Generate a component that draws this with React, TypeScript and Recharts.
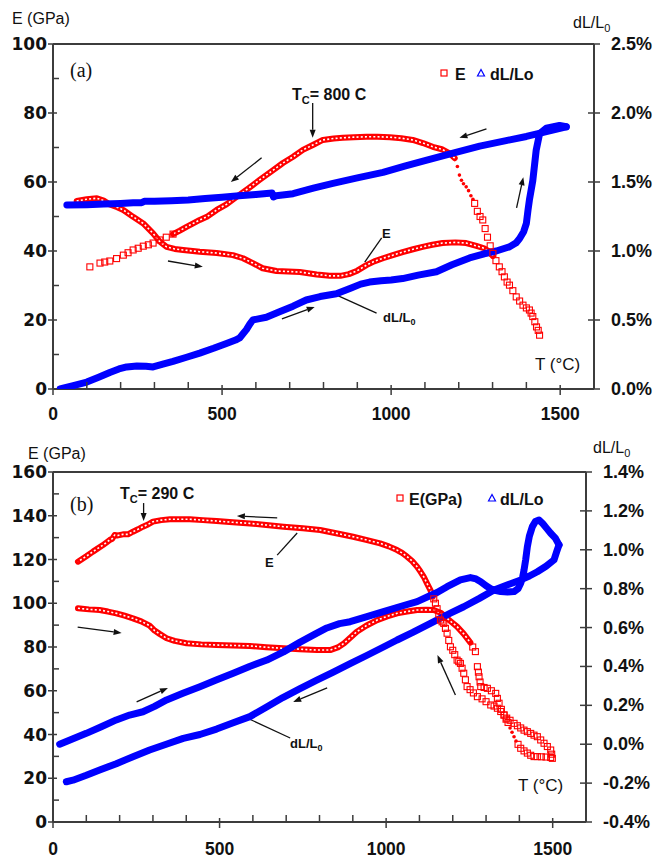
import React from 'react';
import { ScatterChart, Scatter, XAxis, YAxis, ReferenceLine } from 'recharts';

type Pt = [number, number];

// ---------- panel (a) : T (°C) vs E (GPa) and dL/L0 (%) ----------
const eHeatA: Pt[] = [
  [70, 54.5], [100, 55.0], [130, 55.3], [150, 54.6], [168, 53.5], [190, 52.7], [208, 51.9], [237, 49.9],
  [267, 48], [296, 45.1], [316, 42.7], [336, 41.2], [360, 40.6], [385, 40.3], [434, 39.8], [484, 39.4],
  [532, 38.8], [562, 37.9], [591, 36.5], [620, 35], [661, 34.2], [730, 33.9], [780, 33.2], [818, 32.8],
  [850, 32.8], [875, 33.3], [900, 34.3], [927, 35.9], [950, 37], [976, 37.9], [1005, 38.8], [1034, 39.7],
  [1065, 40.5], [1093, 41.2], [1122, 41.8], [1152, 42.3], [1190, 42.5], [1222, 42.3], [1252, 41.5],
  [1275, 40.8], [1291, 39.8], [1301, 38.5],
];
const eCoolA: Pt[] = [
  [1188, 66.9], [1173, 68.3], [1150, 69.5], [1123, 70.2], [1094, 71.3], [1064, 72.2], [1030, 72.7],
  [996, 73], [960, 73.1], [927, 73.1], [890, 73], [857, 72.8], [830, 72.6], [798, 72.2], [770, 70.8],
  [739, 69.3], [710, 67.3], [680, 65.5], [645, 63], [611, 60.6], [577, 58.1], [543, 55.7], [513, 53.5],
  [484, 51.9], [455, 49.9], [434, 49], [395, 47], [375, 45.9], [355, 44.9],
];
const eCoolLowA: Pt[] = [
  [355, 44.9], [335, 44], [316, 43.2], [296, 42.3], [282, 41.8], [267, 41.4], [252, 40.8], [237, 40.3],
  [222, 39.5], [208, 38.8], [188, 37.8], [168, 37.1], [153, 36.8], [139, 36.5], [109, 35.4],
];
const eDotsA: Pt[] = [
  [1196, 64.5], [1202, 62], [1208, 60.5], [1214, 59.5], [1222, 58.6], [1229, 57.5], [1236, 56], [1242, 55],
];
const eDropA: Pt[] = [
  [1247, 53.8], [1255, 51.5], [1263, 50], [1271, 49], [1278, 46.5], [1285, 44], [1293, 41.5], [1301, 39.3],
  [1310, 37.2], [1320, 35.4], [1328, 34], [1335, 32.5], [1343, 31], [1350, 30.1], [1360, 28.5], [1370, 26.7],
  [1380, 25.5], [1390, 24.3], [1400, 23.5], [1409, 22.9], [1414, 22], [1419, 21], [1425, 19.5], [1430, 18],
  [1435, 17], [1439, 15.6],
];
const dHeatA: Pt[] = [
  [21, 0], [60, 0.025], [100, 0.05], [135, 0.085], [168, 0.12], [195, 0.145], [218, 0.16], [248, 0.167],
  [275, 0.165], [296, 0.16], [325, 0.18], [355, 0.2], [395, 0.23], [434, 0.26], [475, 0.295], [513, 0.33],
  [540, 0.355], [552, 0.37], [562, 0.4], [572, 0.43], [582, 0.47], [591, 0.5], [611, 0.51], [631, 0.52],
  [670, 0.56], [710, 0.6], [749, 0.645], [790, 0.67], [838, 0.69], [880, 0.73], [910, 0.76], [936, 0.775],
  [970, 0.785], [1000, 0.79], [1034, 0.8], [1080, 0.825], [1134, 0.85], [1180, 0.9], [1232, 0.95],
  [1275, 0.98], [1311, 1.0], [1350, 1.03], [1370, 1.06], [1380, 1.09], [1392, 1.14], [1400, 1.2],
  [1405, 1.3], [1409, 1.37], [1419, 1.51], [1429, 1.73], [1439, 1.85], [1459, 1.89], [1498, 1.91], [1518, 1.9],
];
const dCoolA: Pt[] = [
  [1518, 1.9], [1450, 1.86], [1400, 1.83], [1340, 1.8], [1262, 1.76], [1183, 1.71], [1100, 1.655],
  [1040, 1.615], [976, 1.57], [900, 1.53], [828, 1.49], [770, 1.455], [710, 1.415], [660, 1.4], [652, 1.392],
  [648, 1.42], [600, 1.41], [550, 1.4], [500, 1.39], [450, 1.38], [400, 1.37], [350, 1.365], [300, 1.36],
  [270, 1.36], [262, 1.35], [237, 1.35], [200, 1.345], [150, 1.34], [100, 1.336], [41, 1.333],
];

// ---------- panel (b) ----------
const eHeatB: Pt[] = [
  [75, 97.7], [108, 97.2], [140, 96.9], [165, 96.2], [190, 95.4], [215, 94.3], [240, 93.1], [265, 91.7],
  [290, 89.8], [305, 87.5], [320, 86], [341, 84], [365, 82.8], [401, 81.7], [445, 81.2], [491, 80.9],
  [541, 80.7], [591, 80.5], [640, 79.9], [692, 79.4], [740, 79], [792, 78.6], [832, 78.6], [855, 79.8],
  [874, 81.7], [893, 84.3], [912, 87], [940, 89.7], [973, 92.3], [1003, 94], [1033, 95.4], [1063, 96.2],
  [1093, 96.9], [1120, 97], [1143, 96.9], [1165, 95.5], [1183, 93.1], [1198, 91.2], [1213, 89.3],
  [1233, 86], [1253, 82],
];
const eHeatDropB: Pt[] = [
  [1260, 80], [1268, 77.9], [1274, 71], [1277, 68.5], [1279, 66.4], [1282, 64], [1284, 61.9], [1294, 61.5],
  [1304, 61.1], [1316, 60], [1329, 58.8], [1334, 56.5], [1339, 54.3], [1346, 51.5], [1354, 48.9],
  [1362, 47.5], [1372, 46.5], [1384, 45.1], [1394, 44], [1404, 43], [1414, 42], [1424, 41.3], [1434, 40.5],
  [1444, 39.7], [1454, 39], [1464, 37.5], [1474, 36], [1484, 34.5], [1494, 32.9], [1497, 31], [1499, 29.1],
];
const eCoolDropB: Pt[] = [
  [1494, 29.5], [1480, 29.7], [1466, 29.8], [1454, 29.9], [1444, 29.9], [1434, 30.5], [1424, 31.5],
  [1414, 32.5], [1404, 33.7], [1396, 35.5], [1366, 45.5], [1360, 47], [1354, 48.9], [1344, 50.5],
  [1334, 52], [1324, 53], [1314, 53.5], [1300, 55], [1288, 56.3], [1274, 57.3], [1262, 59], [1252, 60.5],
  [1243, 61.9], [1238, 65], [1233, 68], [1228, 70.3], [1223, 72.5], [1218, 73.3], [1213, 74], [1206, 76.5],
  [1200, 78.5], [1193, 80.1], [1188, 83], [1183, 86.3], [1178, 88.5], [1173, 90.8], [1168, 91.5],
  [1163, 92.3], [1158, 95], [1153, 97.5], [1148, 100], [1143, 102],
];
const eDotsB: Pt[] = [[1390, 37], [1384, 39], [1378, 41], [1372, 43]];
const eCoolB: Pt[] = [
  [1140, 103], [1133, 106], [1123, 109], [1113, 112.1], [1103, 114.5], [1093, 116.7], [1078, 119.3],
  [1063, 121.3], [1048, 123], [1033, 124.3], [1008, 126], [982, 127.4], [940, 129], [901, 130.4], [850, 132],
  [802, 133.5], [750, 134.3], [692, 135], [640, 135.8], [591, 136.5], [540, 137], [491, 137.6], [450, 138],
  [411, 138.4], [380, 138.4], [351, 138.4], [325, 138], [300, 137.3], [285, 136], [270, 135], [255, 133.8],
  [240, 132.7], [225, 131.5], [210, 131.5], [195, 131], [185, 131.2], [178, 129.5], [170, 128.9],
  [150, 126.6], [120, 123.6], [100, 121.5], [75, 119],
];
const dHeatB: Pt[] = [
  [20, 0.0], [60, 0.028], [100, 0.056], [145, 0.09], [190, 0.125], [230, 0.15], [270, 0.167], [305, 0.195],
  [341, 0.228], [390, 0.262], [441, 0.296], [490, 0.33], [541, 0.365], [590, 0.4], [642, 0.433], [692, 0.475],
  [742, 0.525], [785, 0.565], [822, 0.598], [860, 0.62], [892, 0.63], [940, 0.655], [992, 0.682],
  [1040, 0.707], [1093, 0.733], [1133, 0.765], [1153, 0.78], [1183, 0.81], [1223, 0.845], [1253, 0.857],
  [1270, 0.85], [1284, 0.836], [1300, 0.815], [1314, 0.8], [1330, 0.79], [1344, 0.785], [1365, 0.783],
  [1384, 0.785], [1396, 0.8], [1404, 0.828], [1410, 0.86], [1414, 0.896], [1419, 0.95], [1424, 1.016],
  [1430, 1.07], [1439, 1.119], [1448, 1.145], [1459, 1.153], [1470, 1.135], [1482, 1.11], [1494, 1.085],
  [1508, 1.06], [1519, 1.025],
];
const dCoolB: Pt[] = [
  [1519, 1.025], [1512, 0.99], [1504, 0.948], [1480, 0.915], [1454, 0.887], [1430, 0.865], [1404, 0.845],
  [1365, 0.82], [1324, 0.793], [1280, 0.75], [1233, 0.707], [1193, 0.674], [1133, 0.622], [1080, 0.575],
  [1033, 0.536], [992, 0.5], [940, 0.455], [892, 0.415], [840, 0.37], [792, 0.33], [740, 0.285], [690, 0.24],
  [640, 0.19], [591, 0.142], [541, 0.11], [491, 0.078], [441, 0.05], [391, 0.03], [340, 0.0], [290, -0.03],
  [240, -0.064], [190, -0.1], [140, -0.133], [100, -0.16], [60, -0.185], [40, -0.193],
];

// ticks
const xTicks = [0, 100, 200, 300, 400, 500, 600, 700, 800, 900, 1000, 1100, 1200, 1300, 1400, 1500];
const eTicksA = [0, 10, 20, 30, 40, 50, 60, 70, 80, 90, 100];
const dTicksA = [0, 0.5, 1, 1.5, 2, 2.5];
const eTicksB = [0, 10, 20, 30, 40, 50, 60, 70, 80, 90, 100, 110, 120, 130, 140, 150, 160];
const dTicksB = [-0.4, -0.2, 0, 0.2, 0.4, 0.6, 0.8, 1, 1.2, 1.4];

// annotation arrows, in data units [T, E] (from -> to)
type Arrow = { from: Pt; to: Pt; head: boolean };
const arrowsA: Arrow[] = [
  { from: [617, 67], to: [526, 60], head: true },
  { from: [1282, 75.4], to: [1202, 72.8], head: true },
  { from: [1371, 52.5], to: [1391, 61.4], head: true },
  { from: [340, 37.1], to: [443, 35.4], head: true },
  { from: [677, 20.3], to: [774, 23.8], head: true },
  { from: [768, 82.9], to: [768, 72.8], head: true },
  { from: [972, 43.8], to: [922, 36.8], head: false },
  { from: [957, 22], to: [839, 27.2], head: false },
];
const arrowsB: Arrow[] = [
  { from: [673, 139], to: [552, 139.9], head: true },
  { from: [74, 89.1], to: [206, 86.4], head: true },
  { from: [251, 54.9], to: [345, 61.3], head: true },
  { from: [823, 61.3], to: [721, 54.9], head: true },
  { from: [1208, 58.1], to: [1154, 76.3], head: true },
  { from: [272, 145.8], to: [272, 137.6], head: true },
  { from: [673, 122], to: [733, 132.1], head: false },
  { from: [712, 38.4], to: [576, 48], head: false },
];

const rows = (pts: Pt[]) => pts.map(([t, v]) => ({ t, v }));

const AXIS = '#3c3c3c';
const INK = '#111';
const RED = '#ff0000';
const BLUE = '#0000ff';

const noShape = () => <g />;
const square = (p: any) => (
  <rect x={p.cx - 3} y={p.cy - 3} width={6} height={6} fill="none" stroke={RED} strokeWidth={1.1} />
);
const dot = (p: any) => <circle cx={p.cx} cy={p.cy} r={1.8} fill={RED} />;

const leftTick = (major: number) => (p: any) => {
  const v = p.payload.value;
  if (v % major !== 0) {
    return <line x1={p.x} x2={p.x + 6} y1={p.y} y2={p.y} stroke={AXIS} strokeWidth={1.5} />;
  }
  return (
    <g>
      <line x1={p.x - 5} x2={p.x + 4} y1={p.y} y2={p.y} stroke={AXIS} strokeWidth={1.5} />
      <text x={p.x - 6} y={p.y + 6} textAnchor="end" fontFamily="DejaVu Sans" fontWeight="bold" fontSize={17} fill={INK}>
        {v}
      </text>
    </g>
  );
};

const rightTick = (p: any) => (
  <g>
    <line x1={p.x - 6} x2={p.x + 6} y1={p.y} y2={p.y} stroke={AXIS} strokeWidth={1.5} />
    <text x={p.x + 17} y={p.y + 6} textAnchor="start" fontFamily="Liberation Sans" fontWeight="bold" fontSize={18} fill={INK}>
      {p.payload.value.toFixed(1) + '%'}
    </text>
  </g>
);

const bottomTick = (dy: number) => (p: any) => {
  const v = p.payload.value;
  if (v % 500 !== 0) {
    return <line x1={p.x} x2={p.x} y1={p.y - 7} y2={p.y} stroke={AXIS} strokeWidth={1.5} />;
  }
  return (
    <g>
      <line x1={p.x} x2={p.x} y1={p.y - 4} y2={p.y + 6} stroke={AXIS} strokeWidth={1.5} />
      <text x={p.x} y={p.y + dy} textAnchor="middle" fontFamily="Liberation Sans" fontWeight="bold" fontSize={17.5} fill={INK}>
        {v}
      </text>
    </g>
  );
};

const arrowShape = (head: boolean) => (p: any) => {
  const { x1, y1, x2, y2 } = p;
  if (!head) return <line x1={x1} y1={y1} x2={x2} y2={y2} stroke={INK} strokeWidth={1.3} />;
  const ang = Math.atan2(y2 - y1, x2 - x1);
  const L = 8;
  const W = 3;
  const bx = x2 - L * Math.cos(ang);
  const by = y2 - L * Math.sin(ang);
  const px = -Math.sin(ang) * W;
  const py = Math.cos(ang) * W;
  return (
    <g>
      <line x1={x1} y1={y1} x2={bx} y2={by} stroke={INK} strokeWidth={1.3} />
      <polygon points={`${x2},${y2} ${bx + px},${by + py} ${bx - px},${by - py}`} fill={INK} />
    </g>
  );
};

const bandLine = { stroke: RED, strokeWidth: 6, strokeLinejoin: 'round', strokeLinecap: 'round' };
const bandHoles = { stroke: '#fff', strokeWidth: 1.6, strokeDasharray: '2 2.2' };
const blueLine = { stroke: BLUE, strokeWidth: 7, strokeLinejoin: 'round', strokeLinecap: 'round' };
const axisStyle = { stroke: AXIS, strokeWidth: 2 };

const sans = 'Liberation Sans, Arial, sans-serif';

function Overlay() {
  const txt = { fontFamily: sans, fill: INK } as const;
  return (
    <svg width={655} height={859} style={{ position: 'absolute', left: 0, top: 0, pointerEvents: 'none' }}>
      {/* panel (a) */}
      <text x={12} y={24} fontSize={16} {...txt}>E (GPa)</text>
      <text x={573} y={28} fontSize={16} {...txt}>dL/L<tspan fontSize={11} dy={4}>0</tspan></text>
      <text x={70} y={77} fontSize={20} fontFamily="Liberation Serif, serif" fill={INK}>(a)</text>
      <text x={292} y={100} fontSize={16} fontWeight="bold" {...txt}>
        T<tspan fontSize={11} dy={4}>C</tspan><tspan dy={-4}>= 800 C</tspan>
      </text>
      <rect x={441} y={70} width={6} height={6} fill="none" stroke={RED} strokeWidth={1.2} />
      <text x={455} y={80} fontSize={16} fontWeight="bold" {...txt}>E</text>
      <polygon points="481,69.5 477.5,76 484.5,76" fill="none" stroke={BLUE} strokeWidth={1.2} />
      <text x={490} y={80} fontSize={16} fontWeight="bold" {...txt}>dL/Lo</text>
      <text x={382} y={238} fontSize={13} fontWeight="bold" {...txt}>E</text>
      <text x={383} y={322} fontSize={13} fontWeight="bold" {...txt}>dL/L<tspan fontSize={9} dy={3}>0</tspan></text>
      <text x={535} y={370} fontSize={17} {...txt}>T (°C)</text>

      {/* panel (b) */}
      <text x={28} y={459} fontSize={16} {...txt}>E (GPa)</text>
      <text x={593} y={453} fontSize={16} {...txt}>dL/L<tspan fontSize={11} dy={4}>0</tspan></text>
      <text x={70} y={511} fontSize={20} fontFamily="Liberation Serif, serif" fill={INK}>(b)</text>
      <text x={120} y={499} fontSize={16} fontWeight="bold" {...txt}>
        T<tspan fontSize={11} dy={4}>C</tspan><tspan dy={-4}>= 290 C</tspan>
      </text>
      <rect x={397} y={495} width={6} height={6} fill="none" stroke={RED} strokeWidth={1.2} />
      <text x={409} y={505} fontSize={16} fontWeight="bold" {...txt}>E(GPa)</text>
      <polygon points="492,494.5 488.5,501 495.5,501" fill="none" stroke={BLUE} strokeWidth={1.2} />
      <text x={500} y={505} fontSize={16} fontWeight="bold" {...txt}>dL/Lo</text>
      <text x={265} y={567} fontSize={13} fontWeight="bold" {...txt}>E</text>
      <text x={290} y={748} fontSize={13} fontWeight="bold" {...txt}>dL/L<tspan fontSize={9} dy={3}>0</tspan></text>
      <text x={518} y={791} fontSize={17} {...txt}>T (°C)</text>
    </svg>
  );
}

export default function App() {
  return (
    <div style={{ position: 'absolute', left: 0, top: 0, width: 655, height: 859, background: '#fff' }}>
      <div style={{ position: 'absolute', left: 0, top: 0 }}>
        <ScatterChart width={655} height={430} margin={{ top: 44, right: 0, bottom: 1, left: 0 }}>
          <XAxis type="number" dataKey="t" domain={[0, 1600]} ticks={xTicks} interval={0} tickSize={0} tickMargin={0}
            tickLine={false} axisLine={axisStyle} tick={bottomTick(31)} height={40} allowDataOverflow />
          <YAxis yAxisId="l" type="number" dataKey="v" domain={[0, 100]} ticks={eTicksA} interval={0} tickSize={0}
            tickMargin={0} tickLine={false} axisLine={axisStyle} tick={leftTick(20)} width={53} allowDataOverflow />
          <YAxis yAxisId="r" orientation="right" type="number" dataKey="v" domain={[0, 2.5]} ticks={dTicksA}
            interval={0} tickSize={0} tickMargin={0} tickLine={false} axisLine={axisStyle} tick={rightTick} width={61}
            allowDataOverflow />
          <ReferenceLine yAxisId="l" y={100} stroke={AXIS} strokeWidth={2} />
          <Scatter yAxisId="l" data={rows(eHeatA)} line={bandLine} shape={noShape} isAnimationActive={false} />
          <Scatter yAxisId="l" data={rows(eHeatA)} line={bandHoles} shape={noShape} isAnimationActive={false} />
          <Scatter yAxisId="l" data={rows(eCoolA)} line={bandLine} shape={noShape} isAnimationActive={false} />
          <Scatter yAxisId="l" data={rows(eCoolA)} line={bandHoles} shape={noShape} isAnimationActive={false} />
          <Scatter yAxisId="r" data={rows(dHeatA)} line={blueLine} shape={noShape} isAnimationActive={false} />
          <Scatter yAxisId="r" data={rows(dCoolA)} line={blueLine} shape={noShape} isAnimationActive={false} />
          <Scatter yAxisId="l" data={rows(eCoolLowA)} shape={square} isAnimationActive={false} />
          <Scatter yAxisId="l" data={rows(eDropA)} shape={square} isAnimationActive={false} />
          <Scatter yAxisId="l" data={rows(eDotsA)} shape={dot} isAnimationActive={false} />
          {arrowsA.map((a, i) => (
            <ReferenceLine key={i} yAxisId="l" segment={[{ x: a.from[0], y: a.from[1] }, { x: a.to[0], y: a.to[1] }]}
              shape={arrowShape(a.head)} />
          ))}
        </ScatterChart>
      </div>
      <div style={{ position: 'absolute', left: 0, top: 430 }}>
        <ScatterChart width={655} height={429} margin={{ top: 42, right: 0, bottom: 1, left: 0 }}>
          <XAxis type="number" dataKey="t" domain={[0, 1600]} ticks={xTicks} interval={0} tickSize={0} tickMargin={0}
            tickLine={false} axisLine={axisStyle} tick={bottomTick(33)} height={36} allowDataOverflow />
          <YAxis yAxisId="l" type="number" dataKey="v" domain={[0, 160]} ticks={eTicksB} interval={0} tickSize={0}
            tickMargin={0} tickLine={false} axisLine={axisStyle} tick={leftTick(20)} width={53} allowDataOverflow />
          <YAxis yAxisId="r" orientation="right" type="number" dataKey="v" domain={[-0.4, 1.4]} ticks={dTicksB}
            interval={0} tickSize={0} tickMargin={0} tickLine={false} axisLine={axisStyle} tick={rightTick} width={69}
            allowDataOverflow />
          <ReferenceLine yAxisId="l" y={160} stroke={AXIS} strokeWidth={2} />
          <Scatter yAxisId="l" data={rows(eHeatB)} line={bandLine} shape={noShape} isAnimationActive={false} />
          <Scatter yAxisId="l" data={rows(eHeatB)} line={bandHoles} shape={noShape} isAnimationActive={false} />
          <Scatter yAxisId="l" data={rows(eCoolB)} line={bandLine} shape={noShape} isAnimationActive={false} />
          <Scatter yAxisId="l" data={rows(eCoolB)} line={bandHoles} shape={noShape} isAnimationActive={false} />
          <Scatter yAxisId="r" data={rows(dHeatB)} line={blueLine} shape={noShape} isAnimationActive={false} />
          <Scatter yAxisId="r" data={rows(dCoolB)} line={blueLine} shape={noShape} isAnimationActive={false} />
          <Scatter yAxisId="l" data={rows(eHeatDropB)} shape={square} isAnimationActive={false} />
          <Scatter yAxisId="l" data={rows(eCoolDropB)} shape={square} isAnimationActive={false} />
          <Scatter yAxisId="l" data={rows(eDotsB)} shape={dot} isAnimationActive={false} />
          {arrowsB.map((a, i) => (
            <ReferenceLine key={i} yAxisId="l" segment={[{ x: a.from[0], y: a.from[1] }, { x: a.to[0], y: a.to[1] }]}
              shape={arrowShape(a.head)} />
          ))}
        </ScatterChart>
      </div>
      <Overlay />
    </div>
  );
}
